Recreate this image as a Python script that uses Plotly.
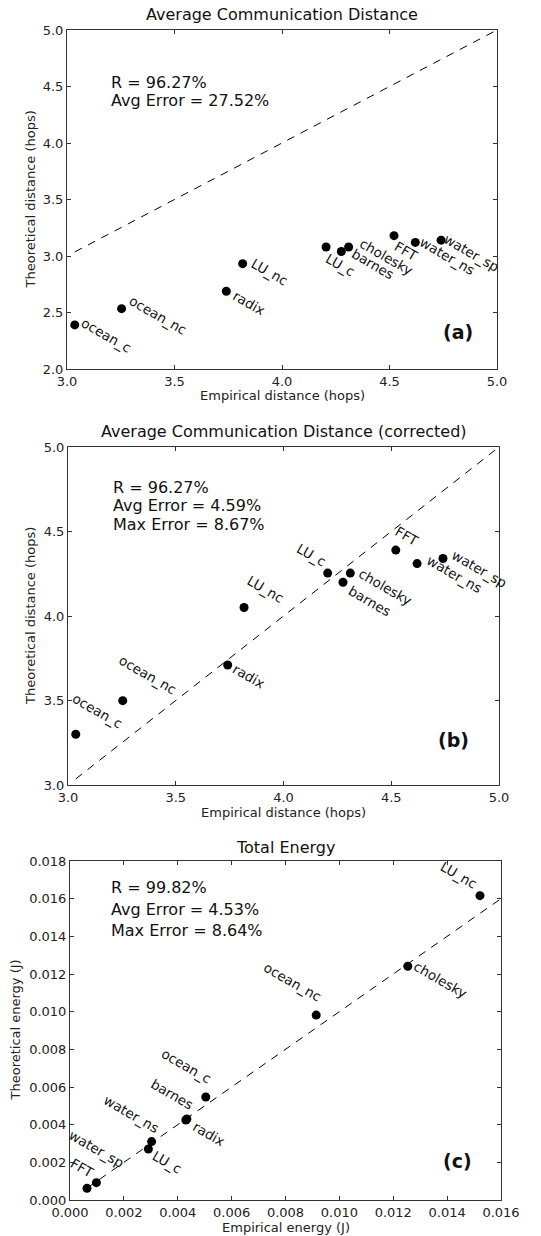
import plotly.graph_objects as go

# ---------------- data ----------------
benchmarks = ["ocean_c", "ocean_nc", "radix", "LU_nc", "LU_c",
              "barnes", "cholesky", "FFT", "water_ns", "water_sp"]

emp_dist = [3.036, 3.254, 3.741, 3.817, 4.205, 4.276, 4.310, 4.521, 4.620, 4.740]
theo_dist = [2.390, 2.534, 2.688, 2.932, 3.080, 3.040, 3.080, 3.180, 3.120, 3.140]
theo_dist_corr = [3.300, 3.499, 3.710, 4.050, 4.254, 4.200, 4.254, 4.390, 4.310, 4.340]

emp_energy = [0.00504, 0.00914, 0.00434, 0.01522, 0.00291,
              0.00430, 0.01254, 0.00063, 0.00303, 0.00098]
theo_energy = [0.00547, 0.00982, 0.00430, 0.01616, 0.00271,
               0.00425, 0.01241, 0.00062, 0.00310, 0.00092]

titles = ["Average Communication Distance",
          "Average Communication Distance (corrected)",
          "Total Energy"]
x_titles = ["Empirical distance (hops)", "Empirical distance (hops)", "Empirical energy (J)"]
y_titles = ["Theoretical distance (hops)", "Theoretical distance (hops)", "Theoretical energy (J)"]
stats = [["R = 96.27%", "Avg Error = 27.52%"],
         ["R = 96.27%", "Avg Error = 4.59%", "Max Error = 8.67%"],
         ["R = 99.82%", "Avg Error = 4.53%", "Max Error = 8.64%"]]
panel_tags = ["(a)", "(b)", "(c)"]

# ---------------- layout geometry (pixels) ----------------
W, H = 541, 1236
FONT = "DejaVu Sans"

def px(x):
    return x / W

def py(y):
    return 1 - y / H

# plot area boxes: (left, right, top, bottom)
boxes = [(67, 497, 30, 369), (68, 499, 447, 785), (70, 501, 861, 1200)]
x_ranges = [[3.0, 5.0], [3.0, 5.0], [0.0, 0.016]]
y_ranges = [[2.0, 5.0], [3.0, 5.0], [0.0, 0.018]]
x_dticks = [0.5, 0.5, 0.002]
y_dticks = [0.5, 0.5, 0.002]
fmts = [".1f", ".1f", ".3f"]

# label glyph offsets relative to point (px): (dx, dy), dy down
label_off = [
    {"ocean_c": (10.6, -1), "ocean_nc": (11.3, -6.4), "radix": (11, 6),
     "LU_nc": (13.3, 1.3), "LU_c": (4, 13), "barnes": (14.7, 3.7),
     "cholesky": (15.6, -2), "FFT": (4.7, 12.6), "water_ns": (8.7, 1),
     "water_sp": (7.3, 0.7)},
    {"ocean_c": (1.3, -34.3), "ocean_nc": (1, -39), "radix": (9.3, 5),
     "LU_nc": (7.4, -25.6), "LU_c": (-26.3, -23), "cholesky": (12.6, 2),
     "barnes": (10, 9.7), "FFT": (3.7, -17.6), "water_sp": (13.4, -2),
     "water_ns": (13.7, -2)},
    {"LU_nc": (-35, -27.4), "cholesky": (10.6, 2), "ocean_nc": (-48, -46.7),
     "ocean_c": (-40, -42), "barnes": (-31, -34.3), "radix": (10.7, 9),
     "water_ns": (-43.4, -40), "LU_c": (8.4, 7.7), "water_sp": (-23, -46),
     "FFT": (-12, -23.3)},
]

stat_pos = [[(109, 82), (109, 100)],
            [(111, 487), (111, 506), (111, 524)],
            [(109, 887), (109, 909), (109, 930)]]
tag_pos = [(458, 332), (453, 740), (458, 1161)]
title_y = [15, 431, 847]
xtitle_y = [395, 812, 1227]
ytitle_x = [30, 30, 15]

series = [(emp_dist, theo_dist), (emp_dist, theo_dist_corr), (emp_energy, theo_energy)]

fig = go.Figure()
annotations = []
layout = {}

for i in range(3):
    xs, ys = series[i]
    sfx = "" if i == 0 else str(i + 1)
    xa, ya = "x" + sfx, "y" + sfx
    l, r, t, b = boxes[i]

    # dashed y = x reference line
    x0 = min(xs)
    x1 = x_ranges[i][1] * 1.02
    fig.add_trace(go.Scatter(x=[x0, x1], y=[x0, x1], mode="lines",
                             line=dict(color="black", width=1, dash="8px,7px"),
                             xaxis=xa, yaxis=ya, showlegend=False, hoverinfo="skip",
                             cliponaxis=True))
    fig.add_trace(go.Scatter(x=xs, y=ys, mode="markers",
                             marker=dict(color="black", size=9),
                             xaxis=xa, yaxis=ya, showlegend=False))

    axcommon = dict(showline=True, linecolor="#333", linewidth=1, mirror="ticks",
                    ticks="inside", ticklen=4, tickwidth=1, tickcolor="#333",
                    showgrid=False, zeroline=False, automargin=False,
                    tickfont=dict(family=FONT, size=13, color="#222"))
    layout["xaxis" + sfx] = dict(axcommon, domain=[px(l), px(r)], range=x_ranges[i],
                                 anchor=ya, dtick=x_dticks[i], tick0=0,
                                 tickformat=fmts[i])
    layout["yaxis" + sfx] = dict(axcommon, domain=[py(b), py(t)], range=y_ranges[i],
                                 anchor=xa, dtick=y_dticks[i], tick0=0,
                                 tickformat=fmts[i])

    # point labels
    for name, xv, yv in zip(benchmarks, xs, ys):
        dx, dy = label_off[i][name]
        annotations.append(dict(x=xv, y=yv, xref=xa, yref=ya, text=name,
                                showarrow=False, textangle=30,
                                xanchor="left", yanchor="top",
                                xshift=dx - 9.7, yshift=12.5 - dy,
                                font=dict(family=FONT, size=13.5, color="#111")))

    # title, axis titles
    cx = (l + r) / 2
    annotations.append(dict(x=px(cx), y=py(title_y[i]), xref="paper", yref="paper",
                            text=titles[i], showarrow=False, xanchor="center",
                            yanchor="middle", font=dict(family=FONT, size=16, color="#111")))
    annotations.append(dict(x=px(cx), y=py(xtitle_y[i]), xref="paper", yref="paper",
                            text=x_titles[i], showarrow=False, xanchor="center",
                            yanchor="middle", font=dict(family=FONT, size=13, color="#222")))
    annotations.append(dict(x=px(ytitle_x[i]), y=py((t + b) / 2), xref="paper", yref="paper",
                            text=y_titles[i], showarrow=False, xanchor="center",
                            yanchor="middle", textangle=-90,
                            font=dict(family=FONT, size=13, color="#222")))
    # stats
    for line, (sx, sy) in zip(stats[i], stat_pos[i]):
        annotations.append(dict(x=px(sx), y=py(sy), xref="paper", yref="paper",
                                text=line, showarrow=False, xanchor="left",
                                yanchor="middle", font=dict(family=FONT, size=16, color="#111")))
    # panel tag
    annotations.append(dict(x=px(tag_pos[i][0]), y=py(tag_pos[i][1]), xref="paper",
                            yref="paper", text="<b>" + panel_tags[i] + "</b>",
                            showarrow=False, xanchor="center", yanchor="middle",
                            font=dict(family=FONT, size=19, color="#111")))

fig.update_layout(width=W, height=H, margin=dict(l=0, r=0, t=0, b=0, autoexpand=False),
                  paper_bgcolor="white", plot_bgcolor="white",
                  font=dict(family=FONT), annotations=annotations, **layout)

fig.write_html("out.html", config={"displayModeBar": False},
               post_script="document.body.style.margin='0';"
                           "document.body.style.overflow='hidden';")
